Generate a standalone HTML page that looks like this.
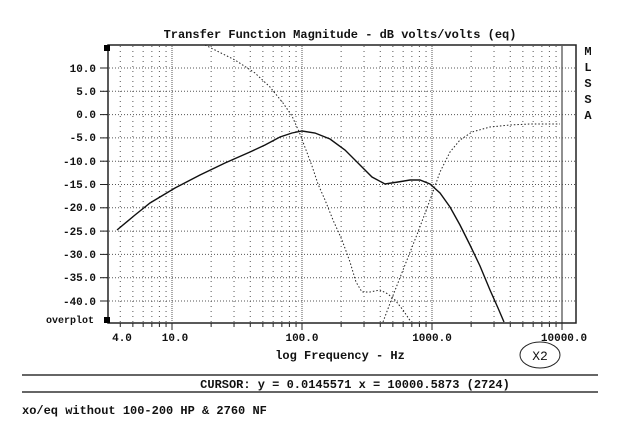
<!DOCTYPE html>
<html><head><meta charset="utf-8"><style>
html,body{margin:0;padding:0;background:#fff;}
svg{display:block;}
text{font-family:"Liberation Mono","DejaVu Sans Mono",monospace;font-weight:bold;fill:#111;}
</style></head><body>
<svg id="s" width="630" height="429" viewBox="0 0 630 429" xmlns="http://www.w3.org/2000/svg">
<text x="340" y="38" font-size="12" text-anchor="middle">Transfer Function Magnitude - dB volts/volts (eq)</text>
<g id="grid"></g>
<rect x="108" y="45" width="468" height="278" fill="none" stroke="#222" stroke-width="1.5"/>
<rect x="104" y="45" width="6" height="6" fill="#000"/>
<rect x="104" y="317" width="6" height="6" fill="#000"/>
<g font-size="11" text-anchor="end">
<text x="96" y="72">10.0</text><text x="96" y="95">5.0</text><text x="96" y="118">0.0</text>
<text x="96" y="141">-5.0</text><text x="96" y="165">-10.0</text><text x="96" y="188">-15.0</text>
<text x="96" y="211">-20.0</text><text x="96" y="235">-25.0</text><text x="96" y="258">-30.0</text>
<text x="96" y="281">-35.0</text><text x="96" y="305">-40.0</text>
<text x="94" y="323" font-size="10">overplot</text>
</g>
<g font-size="11" text-anchor="middle">
<text x="122" y="341">4.0</text><text x="175" y="341">10.0</text><text x="302" y="341">100.0</text>
<text x="432" y="341">1000.0</text><text x="564" y="341">10000.0</text>
</g>
<g font-size="12" text-anchor="middle">
<text x="588" y="55">M</text><text x="588" y="71">L</text><text x="588" y="87">S</text><text x="588" y="103">S</text><text x="588" y="119">A</text>
</g>
<text x="340" y="359" font-size="12" text-anchor="middle">log Frequency - Hz</text>
<ellipse cx="540" cy="355" rx="20" ry="13" fill="none" stroke="#222" stroke-width="1"/>
<text x="540" y="360" font-size="13" font-family="Liberation Sans" text-anchor="middle" style="font-weight:normal">X2</text>
<line x1="22" y1="375" x2="598" y2="375" stroke="#333" stroke-width="1.5"/>
<line x1="22" y1="392" x2="598" y2="392" stroke="#333" stroke-width="1.5"/>
<text x="355" y="388" font-size="12" text-anchor="middle">CURSOR: y = 0.0145571 x = 10000.5873 (2724)</text>
<text x="22" y="414" font-size="12">xo/eq without 100-200 HP &amp; 2760 NF</text>
<path d="M117,230 L135,215 L150,203 L175,188 L200,175 L225,163 L250,152 L265,145 L280,137 L292,133 L302,131 L315,133 L330,139 L345,150 L360,165 L372,177 L385,184 L398,182 L410,180 L420,180 L430,184 L440,193 L450,207 L460,225 L470,245 L480,266 L490,290 L498,308 L504,322" fill="none" stroke="#111" stroke-width="1.4"/>
<path d="M205,45 L235,60 L255,73 L270,87 L283,103 L292,116 L300,134 L306,150 L312,166 L318,184 L325,200 L333,220 L342,240 L350,262 L356,282 L362,292 L370,292 L380,290 L388,294 L395,300 L403,310 L411,322" fill="none" stroke="#222" stroke-width="1" stroke-dasharray="1.5,2"/>
<path d="M383,322 L392,298 L405,265 L418,232 L430,200 L440,172 L450,152 L460,140 L472,132 L490,127 L510,125 L530,124 L560,124" fill="none" stroke="#222" stroke-width="1" stroke-dasharray="1.5,2"/>
</svg>
<script>
var g=document.getElementById('grid'),h='';
function X(f){return 172+130*(Math.log10(f)-1);}
for(var d=1;d<=1000;d*=10)for(var m=1;m<=9;m++){var f=d*m;var x=X(f);if(x<110||x>575)continue;
var major=(m==1);h+='<line x1="'+x+'" y1="46" x2="'+x+'" y2="322" stroke="#555" stroke-width="1" stroke-dasharray="'+(major?'1,1':'1,4')+'"/>';
h+='<line x1="'+x+'" y1="323" x2="'+x+'" y2="'+(major?330:327)+'" stroke="#222"/>';}
h+='<line x1="'+X(10000)+'" y1="46" x2="'+X(10000)+'" y2="330" stroke="#222" stroke-width="1"/>';
for(var v=10;v>=-40;v-=5){var y=68+(10-v)/5*23.3;h+='<line x1="100" y1="'+y+'" x2="575" y2="'+y+'" stroke="#555" stroke-dasharray="1,2"/><line x1="100" y1="'+y+'" x2="108" y2="'+y+'" stroke="#222"/>';}
g.innerHTML=h;
</script>
</body></html>
